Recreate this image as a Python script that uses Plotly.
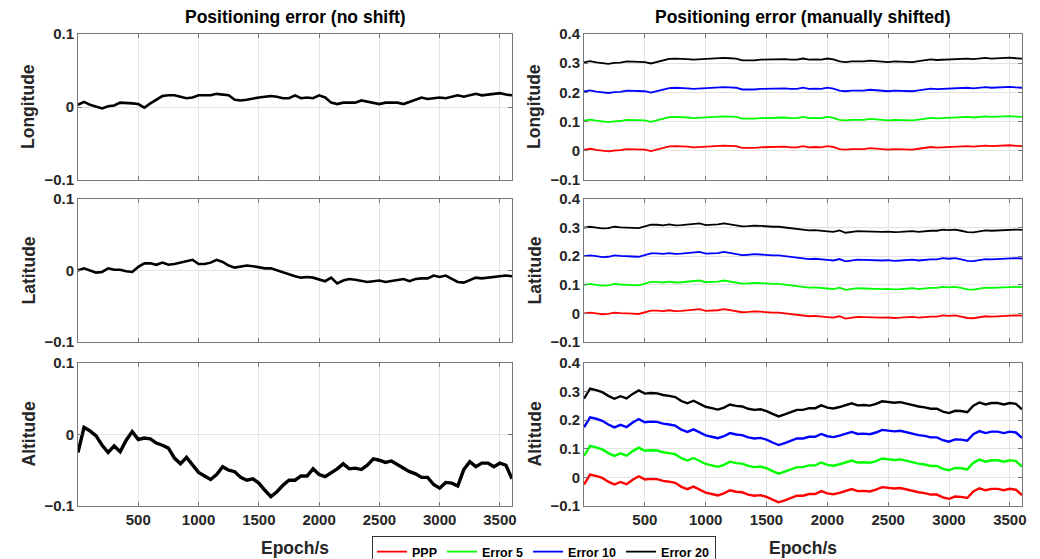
import plotly.graph_objects as go
from plotly.subplots import make_subplots

# ---------------- data ----------------
EPOCH = list(range(0, 3601, 50))

LON = [0.003, 0.007, 0.003, 0.000, -0.002, 0.001, 0.002, 0.006, 0.006, 0.005,
       0.004, -0.001, 0.005, 0.010, 0.015, 0.016, 0.016, 0.014, 0.012, 0.013,
       0.016, 0.016, 0.016, 0.018, 0.017, 0.016, 0.010, 0.009, 0.010, 0.012,
       0.013, 0.014, 0.015, 0.014, 0.012, 0.012, 0.016, 0.012, 0.013, 0.012,
       0.016, 0.013, 0.006, 0.004, 0.006, 0.006, 0.006, 0.009, 0.007, 0.005,
       0.004, 0.006, 0.006, 0.006, 0.004, 0.007, 0.011, 0.013, 0.011, 0.012,
       0.013, 0.012, 0.014, 0.016, 0.014, 0.016, 0.018, 0.016, 0.017, 0.018,
       0.019, 0.017, 0.016]

LAT = [0.000, 0.003, 0.000, -0.003, -0.002, 0.003, 0.001, 0.001, -0.001, -0.002,
       0.005, 0.010, 0.010, 0.008, 0.011, 0.008, 0.009, 0.011, 0.013, 0.015,
       0.009, 0.009, 0.011, 0.015, 0.012, 0.007, 0.004, 0.005, 0.007, 0.006,
       0.004, 0.003, 0.003, 0.000, -0.002, -0.005, -0.008, -0.010, -0.009, -0.010,
       -0.013, -0.015, -0.010, -0.018, -0.014, -0.012, -0.013, -0.014, -0.016, -0.015,
       -0.014, -0.016, -0.015, -0.013, -0.012, -0.015, -0.012, -0.011, -0.011, -0.007,
       -0.009, -0.007, -0.011, -0.016, -0.017, -0.013, -0.010, -0.011, -0.010, -0.009,
       -0.007, -0.007, -0.008]

ALT = [-0.025, 0.010, 0.005, -0.002, -0.015, -0.025, -0.016, -0.024, -0.008, 0.004,
       -0.007, -0.005, -0.006, -0.012, -0.015, -0.019, -0.033, -0.041, -0.032, -0.043,
       -0.053, -0.058, -0.063, -0.056, -0.045, -0.050, -0.052, -0.060, -0.064, -0.062,
       -0.068, -0.078, -0.087, -0.080, -0.071, -0.064, -0.064, -0.058, -0.058, -0.048,
       -0.056, -0.059, -0.054, -0.048, -0.041, -0.048, -0.047, -0.049, -0.043, -0.034,
       -0.036, -0.039, -0.037, -0.042, -0.048, -0.052, -0.055, -0.060, -0.060, -0.070,
       -0.075, -0.067, -0.068, -0.072, -0.049, -0.038, -0.045, -0.040, -0.040, -0.045,
       -0.040, -0.043, -0.062]

ROW_NAMES = ["Longitude", "Latitude", "Altitude"]
SERIES = ["PPP", "Error 5", "Error 10", "Error 20"]
SHIFT = [0.0, 0.1, 0.2, 0.3]
COLORS = ["#ff0000", "#00ff00", "#0000ff", "#000000"]
LEFT_TICKS = [-0.1, 0, 0.1]
RIGHT_TICKS = [-0.1, 0, 0.1, 0.2, 0.3, 0.4]
X_TICKS = [500, 1000, 1500, 2000, 2500, 3000, 3500]
TITLES = ["Positioning error (no shift)", "Positioning error (manually shifted)"]

# ---------------- figure ----------------
W, H = 1040, 559
ML, MR, MT, MB = 78, 18, 34, 53
PW, PH = W - ML - MR, H - MT - MB


def px_x(p):
    return (p - ML) / PW


def px_y(p):
    return (H - MB - p) / PH


FONT = "Liberation Sans, Arial, Helvetica, sans-serif"
TXT = "#262626"

fig = make_subplots(rows=3, cols=2)
data_rows = [LON, LAT, ALT]
left_widths = [2.6, 2.6, 3.4]

for r, vals in enumerate(data_rows, start=1):
    fig.add_trace(go.Scatter(x=EPOCH, y=vals, mode="lines",
                             line=dict(color="black", width=left_widths[r - 1]),
                             showlegend=False), row=r, col=1)
    for name, s, c in zip(SERIES, SHIFT, COLORS):
        fig.add_trace(go.Scatter(x=EPOCH, y=[v + s for v in vals], mode="lines",
                                 name=name, legendgroup=name,
                                 line=dict(color=c, width=1.8 if r < 3 else 2.4),
                                 showlegend=(r == 1)), row=r, col=2)

col_dom = [[px_x(78), px_x(512)], [px_x(584), px_x(1022)]]
row_dom = [[px_y(180), px_y(34)], [px_y(342), px_y(199)], [px_y(506), px_y(363)]]

axis_common = dict(showline=True, linecolor="#777777", linewidth=1, mirror="ticks",
                   ticks="inside", ticklen=4, tickcolor="#777777",
                   showgrid=True, gridcolor="#e4e4e4", gridwidth=1, zeroline=False,
                   tickfont=dict(family=FONT, size=15, color=TXT, weight="bold"))

for r in range(1, 4):
    for c in range(1, 3):
        fig.update_xaxes(domain=col_dom[c - 1], range=[0, 3600], tickvals=X_TICKS,
                         showticklabels=(r == 3), **axis_common, row=r, col=c)
        ticks = LEFT_TICKS if c == 1 else RIGHT_TICKS
        fig.update_yaxes(domain=row_dom[r - 1], range=[ticks[0], ticks[-1]],
                         tickvals=ticks, **axis_common, row=r, col=c)

ann = []
for c, t in enumerate(TITLES):
    cx = (col_dom[c][0] + col_dom[c][1]) / 2
    ann.append(dict(text=t, x=cx, y=px_y(17), xref="paper", yref="paper",
                    showarrow=False, xanchor="center", yanchor="middle",
                    font=dict(family=FONT, size=17.5, color="black", weight="bold")))
    ann.append(dict(text="Epoch/s", x=cx, y=px_y(548), xref="paper", yref="paper",
                    showarrow=False, xanchor="center", yanchor="middle",
                    font=dict(family=FONT, size=17.5, color=TXT, weight="bold")))
ylab_x = [px_x(28), px_x(534)]
for r, name in enumerate(ROW_NAMES):
    cy = (row_dom[r][0] + row_dom[r][1]) / 2
    for c in range(2):
        ann.append(dict(text=name, x=ylab_x[c], y=cy, xref="paper", yref="paper",
                        showarrow=False, textangle=-90, xanchor="center", yanchor="middle",
                        font=dict(family=FONT, size=17.5, color=TXT, weight="bold")))

fig.update_layout(
    width=W, height=H,
    margin=dict(l=ML, r=MR, t=MT, b=MB, autoexpand=False),
    paper_bgcolor="white", plot_bgcolor="white",
    font=dict(family=FONT, color=TXT, weight="bold"),
    annotations=ann,
    legend=dict(orientation="h", x=px_x(544), xanchor="center", y=px_y(536), yanchor="top",
                bgcolor="white", bordercolor="#333333", borderwidth=1,
                itemwidth=30, tracegroupgap=0,
                font=dict(family=FONT, size=12.5, color="black", weight="bold")),
)

fig.write_html("out.html")
